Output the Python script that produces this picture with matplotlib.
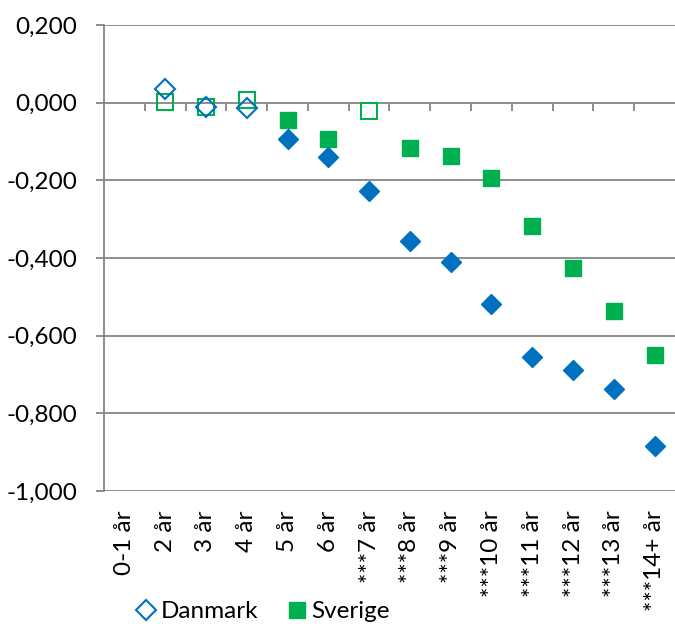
import matplotlib.pyplot as plt
import numpy as np
from matplotlib.lines import Line2D
from matplotlib.ticker import FuncFormatter, FixedLocator

plt.rcParams['font.family'] = ['Lato', 'DejaVu Sans']

categories = ['0-1 år', '2 år', '3 år', '4 år', '5 år', '6 år', '***7 år',
              '***8 år', '***9 år', '***10 år', '***11 år', '***12 år',
              '***13 år', '***14+ år']
danmark = [np.nan, 0.035, -0.012, -0.014, -0.094, -0.140, -0.228, -0.357,
           -0.411, -0.519, -0.656, -0.687, -0.738, -0.883]
danmark_hollow = [False, True, True, True, False, False, False, False,
                  False, False, False, False, False, False]
sverige = [np.nan, 0.002, -0.011, 0.007, -0.045, -0.094, -0.021, -0.117,
           -0.137, -0.194, -0.318, -0.426, -0.537, -0.650]
sverige_hollow = [False, True, True, True, False, False, True, False,
                  False, False, False, False, False, False]

blue = '#0070C0'
green = '#00B050'
grid = '#868686'
fs = 17.5

fig = plt.figure(figsize=(6.75, 6.24), dpi=100)
ax = fig.add_axes([0.154, 0.213, 0.846, 0.747])

x = np.arange(len(categories))


def draw(vals, hollow, marker, color, ms, mew):
    vals = np.array(vals)
    hollow = np.array(hollow)
    ax.plot(x[~hollow], vals[~hollow], linestyle='none', marker=marker,
            ms=ms, color=color, mec=color, zorder=3)
    ax.plot(x[hollow], vals[hollow], linestyle='none', marker=marker,
            ms=ms, mfc='none', mec=color, mew=mew, zorder=3)


draw(sverige, sverige_hollow, 's', green, 12, 1.5)
draw(danmark, danmark_hollow, 'D', blue, 10, 1.5)

ax.set_xlim(-0.5, len(categories) - 0.5)
ax.set_ylim(-1.0, 0.2)
ax.set_yticks(np.arange(-1.0, 0.21, 0.2))
ax.yaxis.set_major_formatter(FuncFormatter(
    lambda v, p: f'{v:.3f}'.replace('.', ',').replace('-0,000', '0,000')))
ax.grid(axis='y', color=grid, linewidth=1.3)
ax.set_axisbelow(True)

for s in ['top', 'right', 'bottom']:
    ax.spines[s].set_visible(False)
ax.spines['left'].set_color(grid)
ax.spines['left'].set_linewidth(1.3)
ax.tick_params(axis='y', colors=grid, length=6, width=1.3, labelsize=fs,
               labelcolor='black', pad=13)

ax.set_xticks(x)
ax.set_xticklabels(categories, rotation=90, fontsize=fs)
ax.tick_params(axis='x', length=0, pad=14)

# category axis crossing at zero, with ticks between categories
ax0 = ax.secondary_xaxis(1.0 / 1.2)
ax0.xaxis.set_major_locator(FixedLocator(x[:-1] + 0.5))
ax0.tick_params(axis='x', direction='out', length=6, width=1.3, colors=grid,
                labelbottom=False, labeltop=False, bottom=True, top=False)
ax0.spines['bottom'].set_color(grid)
ax0.spines['bottom'].set_linewidth(1.3)
ax0.spines['top'].set_visible(False)

handles = [
    Line2D([], [], linestyle='none', marker='D', ms=10, mfc='none', mec=blue, mew=1.5),
    Line2D([], [], linestyle='none', marker='s', ms=12, color=green),
]
fig.legend(handles, ['Danmark', 'Sverige'], loc='center',
           bbox_to_anchor=(0.39, 0.02), ncol=2, frameon=False,
           fontsize=fs, handlelength=0.8, handletextpad=0.2,
           columnspacing=1.2, borderpad=0)

fig.savefig('out.png', dpi=100)
